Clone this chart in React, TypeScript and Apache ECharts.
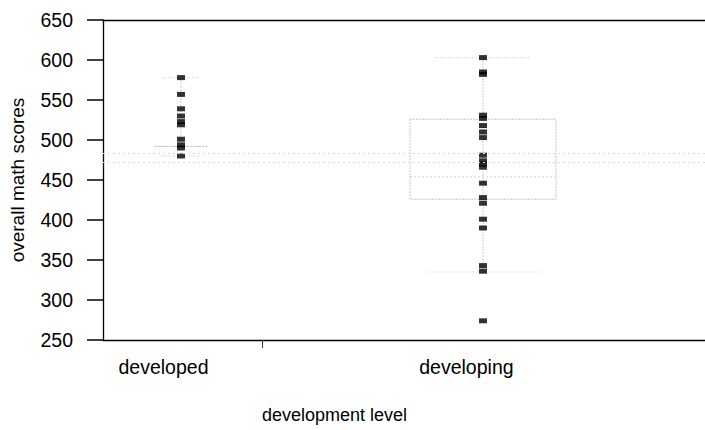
import React, { useEffect, useRef } from "react";
import * as echarts from "echarts";

// ---- data ----
const categories = ["developed", "developing"];
const categoryPositions = [1, 2];
const developedScores = [578, 557, 539, 530, 523, 519, 501, 494, 490, 480];
const developingScores = [
  603, 585, 582, 531, 527, 518, 510, 503, 481, 474, 470, 466, 446, 428, 421,
  401, 390, 343, 336, 274,
];
const yMin = 250;
const yMax = 650;
const yStep = 50;
const referenceLines = [484, 472];
// [x, low whisker, q1, median, q3, high whisker]
const boxStats = [
  [1, 480, 492, 492, 492, 578],
  [2, 335, 426, 454, 526, 603],
];
const xAxisTitle = "development level";
const yAxisTitle = "overall math scores";

const FONT = "'Liberation Sans', Arial, Helvetica, sans-serif";

export default function App() {
  const ref = useRef<HTMLDivElement>(null);

  useEffect(() => {
    if (!ref.current) return;
    const chart = echarts.init(ref.current, undefined, { renderer: "svg" });

    const faint = "#d6d6d6";
    const option: any = {
      animation: false,
      backgroundColor: "#ffffff",
      grid: { left: 103, right: 0, top: 20, bottom: 90, containLabel: false },
      xAxis: [
        {
          type: "value",
          min: 0.7417,
          max: 2.735,
          axisLine: { show: true, lineStyle: { color: "#000", width: 1.3 } },
          axisTick: {
            show: true,
            customValues: [1.268],
            length: 8,
            lineStyle: { color: "#333", width: 1 },
          },
          axisLabel: {
            show: true,
            customValues: [0.942, 1.945],
            formatter: (v: number) => (v < 1.5 ? categories[0] : categories[1]),
            fontSize: 19.5,
            color: "#000",
            fontFamily: FONT,
            margin: 17,
          },
          splitLine: { show: false },
        },
        {
          type: "value",
          position: "top",
          min: 0.7417,
          max: 2.735,
          axisLine: { show: true, lineStyle: { color: "#000", width: 1.3 } },
          axisTick: { show: false },
          axisLabel: { show: false },
          splitLine: { show: false },
        },
      ],
      yAxis: {
        type: "value",
        min: yMin,
        max: yMax,
        interval: yStep,
        name: yAxisTitle,
        nameLocation: "middle",
        nameGap: 76,
        nameTextStyle: { fontSize: 19, color: "#000", fontFamily: FONT },
        axisLine: { show: true, lineStyle: { color: "#000", width: 1.3 } },
        axisTick: { show: true, length: 16, lineStyle: { color: "#000", width: 1.5 } },
        axisLabel: { fontSize: 19.5, color: "#000", fontFamily: FONT, margin: 30 },
        splitLine: { show: false },
      },
      graphic: [
        {
          type: "text",
          left: 262,
          top: 406,
          style: {
            text: xAxisTitle,
            fontSize: 18,
            fill: "#000",
            fontFamily: FONT,
          },
        },
      ],
      series: [
        {
          type: "custom",
          silent: true,
          z: 1,
          data: boxStats,
          renderItem: (params: any, api: any) => {
            const x = api.value(0);
            const low = api.value(1);
            const q1 = api.value(2);
            const med = api.value(3);
            const q3 = api.value(4);
            const high = api.value(5);
            const half = params.dataIndex === 0 ? 27 : 73;
            const pLow = api.coord([x, low]);
            const pQ1 = api.coord([x, q1]);
            const pMed = api.coord([x, med]);
            const pQ3 = api.coord([x, q3]);
            const pHigh = api.coord([x, high]);
            const cx = pMed[0];
            const ls = { stroke: faint, lineWidth: 1, lineDash: [2, 2] };
            const children: any[] = [
              { type: "line", shape: { x1: cx, y1: pHigh[1], x2: cx, y2: pLow[1] }, style: { stroke: "#999", lineWidth: 1, lineDash: [1, 2] } },
              { type: "line", shape: { x1: cx - half * 0.65, y1: pHigh[1], x2: cx + half * 0.65, y2: pHigh[1] }, style: ls },
              { type: "line", shape: { x1: cx - half * 0.75, y1: pLow[1], x2: cx + half * 0.75, y2: pLow[1] }, style: ls },
              { type: "line", shape: { x1: cx - half, y1: pMed[1], x2: cx + half, y2: pMed[1] }, style: ls },
            ];
            if (pQ1[1] - pQ3[1] > 1) {
              children.push({
                type: "rect",
                shape: { x: cx - half, y: pQ3[1], width: half * 2, height: pQ1[1] - pQ3[1] },
                style: { fill: "none", stroke: "#c4c4c4", lineWidth: 1, lineDash: [2, 1] },
              });
            } else {
              children.push({ type: "line", shape: { x1: cx - half, y1: pQ1[1], x2: cx + half, y2: pQ1[1] }, style: { stroke: "#c4c4c4", lineWidth: 1, lineDash: [2, 1] } });
            }
            return { type: "group", children };
          },
          markLine: {
            silent: true,
            symbol: "none",
            label: { show: false },
            lineStyle: { color: "#dadada", type: [2, 3], width: 1 },
            data: referenceLines.map((v) => ({ yAxis: v })),
          },
        },
        {
          type: "scatter",
          z: 3,
          symbol: "rect",
          symbolSize: [8, 5],
          itemStyle: { color: "#000" },
          data: developedScores.map((v) => [categoryPositions[0], v]),
        },
        {
          type: "scatter",
          z: 3,
          symbol: "rect",
          symbolSize: [8, 5],
          itemStyle: { color: "#000" },
          data: developingScores.map((v) => [categoryPositions[1], v]),
        },
      ],
    };

    chart.setOption(option);
    return () => chart.dispose();
  }, []);

  return (
    <div
      ref={ref}
      style={{ position: "fixed", left: 0, top: 0, width: 705, height: 430 }}
    />
  );
}
